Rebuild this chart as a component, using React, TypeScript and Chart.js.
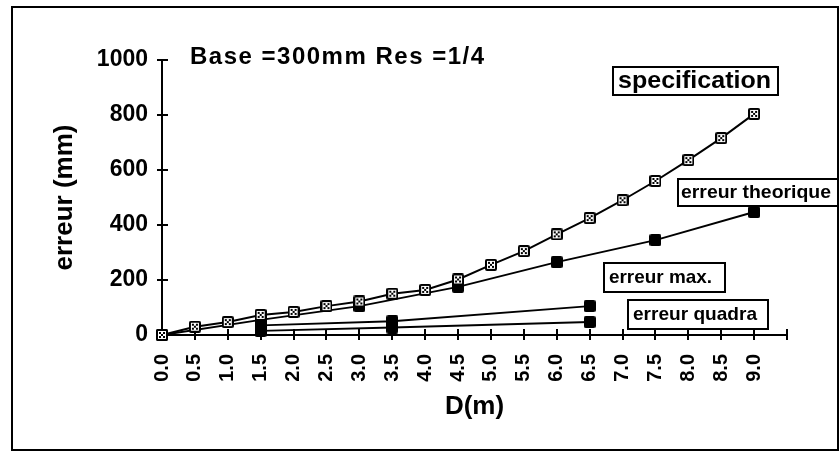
import React, { useEffect, useRef } from 'react';
import { Chart, registerables } from 'chart.js';

Chart.register(...registerables);

// ---- data ----
const specD = [0, 0.5, 1, 1.5, 2, 2.5, 3, 3.5, 4, 4.5, 5, 5.5, 6, 6.5, 7, 7.5, 8, 8.5, 9];
const specVals = [0, 30, 47, 73, 84, 105, 122, 150, 164, 202, 255, 305, 366, 425, 490, 560, 636, 716, 804];
const theoD = [0, 1.5, 3, 4.5, 6, 7.5, 9];
const theoVals = [0, 55, 105, 175, 265, 345, 447];
const maxD = [1.5, 3.5, 6.5];
const maxVals = [35, 50, 105];
const quadD = [1.5, 3.5, 6.5];
const quadVals = [15, 27, 47];
const xTickVals = [0, 0.5, 1, 1.5, 2, 2.5, 3, 3.5, 4, 4.5, 5, 5.5, 6, 6.5, 7, 7.5, 8, 8.5, 9, 9.5];
const xTickLabels = ['0.0', '0.5', '1.0', '1.5', '2.0', '2.5', '3.0', '3.5', '4.0', '4.5', '5.0', '5.5', '6.0', '6.5', '7.0', '7.5', '8.0', '8.5', '9.0', ''];
const yTickVals = [0, 200, 400, 600, 800, 1000];
const yTickLabels = ['0', '200', '400', '600', '800', '1000'];

const FONT = "'Liberation Sans', Arial, sans-serif";

function pts(xs: number[], ys: number[]) {
  return xs.map((x, i) => ({ x, y: ys[i] }));
}

function rr(g: CanvasRenderingContext2D, x: number, y: number, w: number, h: number, r: number) {
  g.beginPath();
  g.moveTo(x + r, y);
  g.lineTo(x + w - r, y);
  g.quadraticCurveTo(x + w, y, x + w, y + r);
  g.lineTo(x + w, y + h - r);
  g.quadraticCurveTo(x + w, y + h, x + w - r, y + h);
  g.lineTo(x + r, y + h);
  g.quadraticCurveTo(x, y + h, x, y + h - r);
  g.lineTo(x, y + r);
  g.quadraticCurveTo(x, y, x + r, y);
  g.closePath();
}

function makeSpecMarker() {
  const c = document.createElement('canvas');
  c.width = 12; c.height = 12;
  const g = c.getContext('2d')!;
  g.fillStyle = '#000';
  rr(g, 0, 0, 12, 12, 2);
  g.fill();
  g.fillStyle = '#fff';
  g.fillRect(2, 2, 8, 8);
  g.fillStyle = '#000';
  g.fillRect(3, 3, 2, 2);
  g.fillRect(7, 3, 2, 2);
  g.fillRect(5, 5, 2, 2);
  g.fillRect(3, 7, 2, 2);
  g.fillRect(7, 7, 2, 2);
  return c;
}

function makeBlackMarker() {
  const c = document.createElement('canvas');
  c.width = 12; c.height = 12;
  const g = c.getContext('2d')!;
  g.fillStyle = '#000';
  rr(g, 0, 0, 12, 12, 2);
  g.fill();
  return c;
}

function drawFit(ctx: CanvasRenderingContext2D, text: string, left: number, cy: number, size: number, target: number) {
  ctx.save();
  ctx.font = `bold ${size}px ${FONT}`;
  ctx.textBaseline = 'middle';
  ctx.textAlign = 'left';
  const w = ctx.measureText(text).width;
  ctx.translate(left, cy);
  ctx.scale(target / w, 1);
  ctx.fillStyle = '#000';
  ctx.fillText(text, 0, 0);
  ctx.restore();
}

function box(ctx: CanvasRenderingContext2D, x: number, y: number, w: number, h: number) {
  ctx.save();
  ctx.fillStyle = '#fff';
  ctx.fillRect(x, y, w, h);
  ctx.strokeStyle = '#000';
  ctx.lineWidth = 2;
  ctx.strokeRect(x, y, w, h);
  ctx.restore();
}

const decorPlugin = {
  id: 'decor',
  beforeDatasetsDraw(chart: any) {
    const { ctx, scales } = chart;
    const xs = scales.x, ys = scales.y;
    ctx.save();
    ctx.strokeStyle = '#000';
    ctx.lineWidth = 2;
    ctx.beginPath();
    yTickVals.forEach((v) => {
      const y = Math.round(ys.getPixelForValue(v));
      ctx.moveTo(xs.left, y);
      ctx.lineTo(xs.left + 6, y);
    });
    xTickVals.forEach((v) => {
      const x = Math.round(xs.getPixelForValue(v));
      ctx.moveTo(x, ys.bottom);
      ctx.lineTo(x, ys.bottom - 6);
    });
    ctx.stroke();
    ctx.restore();
  },
  afterDraw(chart: any) {
    const { ctx } = chart;
    // outer frame
    ctx.save();
    ctx.strokeStyle = '#000';
    ctx.lineWidth = 2;
    ctx.strokeRect(12, 7, 826, 443);
    ctx.restore();

    // header text
    ctx.save();
    ctx.font = `bold 24px ${FONT}`;
    (ctx as any).letterSpacing = '1.5px';
    ctx.textBaseline = 'middle';
    ctx.fillStyle = '#000';
    ctx.fillText('Base =300mm Res =1/4', 190, 57);
    ctx.restore();

    box(ctx, 613, 67, 165, 28);
    drawFit(ctx, 'specification', 618, 81, 24, 153);
    box(ctx, 678, 179, 160, 27);
    drawFit(ctx, 'erreur theorique', 681, 193, 19, 150);
    box(ctx, 604, 263, 121, 29);
    drawFit(ctx, 'erreur max.', 609, 278, 19, 103);
    box(ctx, 628, 300, 140, 29);
    drawFit(ctx, 'erreur quadra', 633, 315, 19, 124);
  },
};

export default function App() {
  const ref = useRef<HTMLCanvasElement | null>(null);

  useEffect(() => {
    if (!ref.current) return;
    const spec = makeSpecMarker();
    const black = makeBlackMarker();
    const base = {
      borderColor: '#000',
      borderWidth: 2,
      tension: 0,
      pointRadius: 6,
      clip: false as any,
      showLine: true,
    };
    const chart = new Chart(ref.current, {
      type: 'line',
      data: {
        datasets: [
          { ...base, label: 'specification', data: pts(specD, specVals), pointStyle: spec as any },
          { ...base, label: 'erreur theorique', data: pts(theoD, theoVals), pointStyle: black as any },
          { ...base, label: 'erreur max.', data: pts(maxD, maxVals), pointStyle: black as any },
          { ...base, label: 'erreur quadra', data: pts(quadD, quadVals), pointStyle: black as any },
        ],
      },
      options: {
        animation: false,
        responsive: false,
        devicePixelRatio: 1,
        layout: { padding: { left: 49, top: 60, right: 53, bottom: 0 } },
        plugins: { legend: { display: false }, tooltip: { enabled: false } },
        scales: {
          x: {
            type: 'linear',
            min: 0,
            max: 9.5,
            afterBuildTicks: (s: any) => {
              s.ticks = xTickVals.map((v) => ({ value: v }));
            },
            afterFit: (s: any) => {
              s.height = 117;
            },
            ticks: {
              autoSkip: false,
              minRotation: 90,
              maxRotation: 90,
              padding: 14,
              color: '#000',
              font: { family: FONT, size: 20, weight: 'bold' },
              callback: (v: any) => {
                const i = xTickVals.indexOf(Number(v));
                return i >= 0 ? xTickLabels[i] : '';
              },
            },
            grid: { display: true, drawOnChartArea: false, drawTicks: true, tickLength: 5, color: '#000', lineWidth: 2 },
            border: { display: true, color: '#000', width: 2 },
            title: {
              display: true,
              text: 'D(m)',
              color: '#000',
              font: { family: FONT, size: 26, weight: 'bold' },
              padding: { top: 0, bottom: 30 },
            },
          },
          y: {
            min: 0,
            max: 1000,
            afterBuildTicks: (s: any) => {
              s.ticks = yTickVals.map((v) => ({ value: v }));
            },
            afterFit: (s: any) => {
              s.width = 113;
            },
            ticks: {
              padding: 9,
              color: '#000',
              font: { family: FONT, size: 23, weight: 'bold' },
              callback: (v: any) => {
                const i = yTickVals.indexOf(Number(v));
                return i >= 0 ? yTickLabels[i] : '';
              },
            },
            grid: { display: true, drawOnChartArea: false, drawTicks: true, tickLength: 5, color: '#000', lineWidth: 2 },
            border: { display: true, color: '#000', width: 2 },
            title: {
              display: true,
              text: 'erreur (mm)',
              color: '#000',
              font: { family: FONT, size: 26, weight: 'bold' },
              padding: 0,
            },
          },
        },
      },
      plugins: [decorPlugin],
    });
    return () => chart.destroy();
  }, []);

  return (
    <div style={{ position: 'fixed', left: 0, top: 0, width: 840, height: 452, background: '#fff' }}>
      <canvas ref={ref} width={840} height={452} style={{ display: 'block', width: 840, height: 452 }} />
    </div>
  );
}
